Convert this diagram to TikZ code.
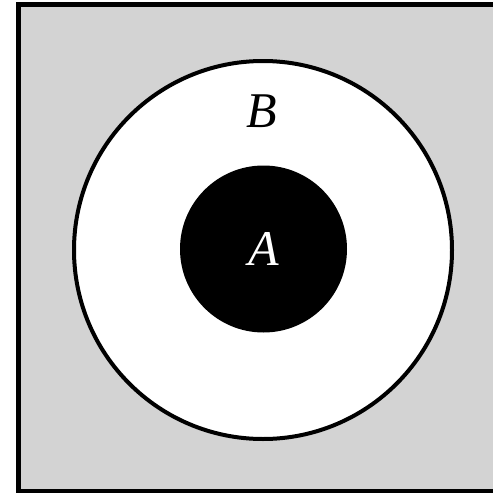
\documentclass[tikz,border=0pt]{standalone}
\usepackage{fontspec}
\setmainfont{Liberation Serif}
\begin{document}
\begin{tikzpicture}[x=1pt,y=-1pt,
  frame/.style={draw=black,line width=5pt,fill={rgb,255:red,211;green,211;blue,211}},
  ring/.style={draw=black,line width=4pt,fill=white},
  core/.style={fill=black},
  lbl/.style={font=\itshape\fontsize{50}{50}\selectfont,inner sep=0pt}]
\useasboundingbox (0,0) rectangle (493,493);
\begin{scope}
\clip (0,0) rectangle (493,493);
\draw[frame] (18.5,4.5) rectangle (520,491.5);
\end{scope}
\node[ring,circle,minimum size=378pt,inner sep=0pt] (B) at (263,250) {};
\node[core,circle,minimum size=167pt,inner sep=0pt] (A) at (263.5,249) {};
\node[lbl,text=white] (la) at (A.center) {A};
\node[lbl,text=black] (lb) at (262,111) {B};
\end{tikzpicture}
\end{document}
